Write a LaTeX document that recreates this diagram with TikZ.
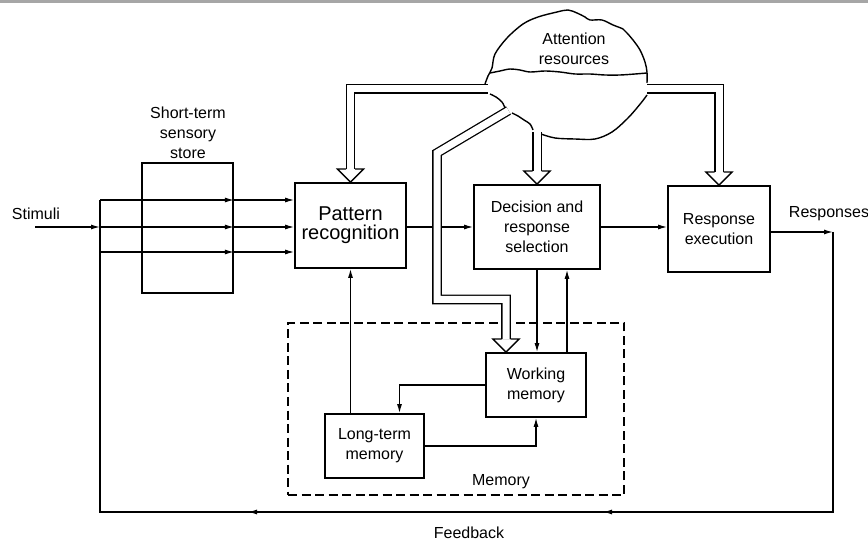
\documentclass[tikz,border=0pt]{standalone}
\usepackage{fontspec}
\setmainfont{Liberation Sans}
\usetikzlibrary{arrows.meta,calc,decorations.markings}

\newcommand{\fathead}[1]{%
  \draw[line width=1.3pt,line join=miter] ($(#1)+(-4.5,-13)$) -- ++(-8.5,0) -- (#1) -- ($(#1)+(13,-13)$) -- ++(-8.5,0);}

\begin{document}
\begin{tikzpicture}[x=1pt,y=-1pt,line width=1.2pt,
  every node/.style={font=\fontsize{16}{20}\selectfont,align=center},
  box/.style={draw,line width=1.8pt,inner sep=0pt},
  arr/.style={-{Latex[length=9pt,width=5pt]}},
  fat/.style={double,double distance=7pt,line width=1.3pt},
  cloud/.style={line width=1.4pt,smooth,tension=0.55}]
  \useasboundingbox (0,0) rectangle (868,545);
  \fill[gray!70] (0,0) rectangle (868,3);

  % boxes
  \node[box,minimum width=91,minimum height=130] (stss) at (187.5,228) {};
  \node (stsslbl) at (188,133) {Short-term\\sensory\\store};
  \node[box,minimum width=111,minimum height=85,font=\fontsize{20}{19}\selectfont] (pr) at (350.5,225.5) {Pattern\\recognition};
  \node[box,minimum width=126,minimum height=84] (drs) at (537,227) {Decision and\\response\\selection};
  \node[box,minimum width=102,minimum height=86] (re) at (719,229) {Response\\execution};
  \node[draw,dash pattern=on 9pt off 4.5pt,minimum width=336,minimum height=172] (mem) at (456,409) {};
  \node[box,minimum width=100,minimum height=64] (wm) at (536,385) {Working\\memory};
  \node[box,minimum width=99,minimum height=64] (ltm) at (374.5,446) {Long-term\\memory};
  \node (memlbl) at (501,482) {Memory};

  \node (stim) at (36,214) {Stimuli};
  \node (resp) at (829,214) {Responses};
  \node (fbk) at (469,533) {Feedback};
  \node (att) at (574,49) {Attention\\resources};

  % stimuli into the store
  \coordinate (s0) at (35,227);
  \coordinate (in1) at (100,200);
  \coordinate (in2) at (100,227);
  \coordinate (in3) at (100,252);
  \draw[arr] (s0) -- (in2);
  \foreach \i in {1,2,3}{
    \draw[arr] (in\i) -- (in\i -| stss.east);
    \draw[arr] (in\i -| stss.east) -- (in\i -| pr.west);
  }

  % main flow
  \draw[arr] (pr.east |- drs.west) -- (drs.west);
  \draw[arr] (drs.east) -- (drs.east -| re.west);
  \coordinate (rc) at (833,232);
  \draw[arr] (re.east |- rc) -- (rc);

  % feedback loop
  \coordinate (fb) at (833,512);
  \draw[postaction={decorate},decoration={markings,
      mark=at position 510pt with {\arrow{Latex[length=9pt,width=5pt]}},
      mark=at position 865pt with {\arrow{Latex[length=9pt,width=5pt]}}}]
    (rc) -- (fb) -- (fb -| in1) -- (in1);

  % memory
  \draw[arr] (ltm.north -| pr.south) -- (pr.south);
  \draw[arr] (wm.west) -| ([xshift=25pt]ltm.north);
  \draw[arr] (ltm.east) -| (wm.south);
  \draw[arr] (drs.south) -- (drs.south |- wm.north);
  \draw[arr] ([xshift=31pt]wm.north) -- ([xshift=31pt]wm.north |- drs.south);

  % cloud mouths
  \coordinate (a1) at (485,84);  \coordinate (a2) at (490,94);
  \coordinate (b1) at (505,108); \coordinate (b2) at (512,113);
  \coordinate (c1) at (533,130); \coordinate (c2) at (541,134);
  \coordinate (d1) at (647,83);  \coordinate (d2) at (647,95);

  % attention cloud
  \draw[cloud] plot coordinates {(a1) (488,76) (492,68) (495,54) (507,38) (523,24)
    (538,17) (557,12) (568,10) (577,13) (585,17) (590,20) (602,20) (613,25) (623,29)
    (627,33) (633,40) (640,50) (645,62) (647,72) (d1)};
  \draw[cloud] plot coordinates {(490,73) (500,71) (510,69) (520,70) (530,72) (545,71)
    (560,72) (575,74) (590,74) (605,75) (620,75) (635,74) (647,73)};
  \draw[cloud] plot coordinates {(a2) (496,97) (502,102) (b1)};
  \draw[cloud] plot coordinates {(b2) (518,116) (524,120) (530,124) (c1)};
  \draw[cloud] plot coordinates {(c2) (555,138) (575,139) (595,139) (612,132) (628,118)
    (641,103) (d2)};

  % attention channels
  \coordinate (wmtip) at ($(wm.north)+(-30,0)$);
  \draw[fat] ($(a1)!.5!(a2)$) -| ($(pr.north)+(0,-13)$);
  \fathead{pr.north}
  \draw[fat] ($(c1)!.5!(c2)$) -- ($(drs.north)+(0,-13)$);
  \fathead{drs.north}
  \draw[fat] ($(d1)!.5!(d2)$) -| ($(re.north)+(0,-13)$);
  \fathead{re.north}
  \draw[fat] ($(b1)!.5!(b2)$) -- (437,153) -- (437,299.5) -| ($(wmtip)+(0,-13)$);
  \fathead{wmtip}
\end{tikzpicture}
\end{document}
